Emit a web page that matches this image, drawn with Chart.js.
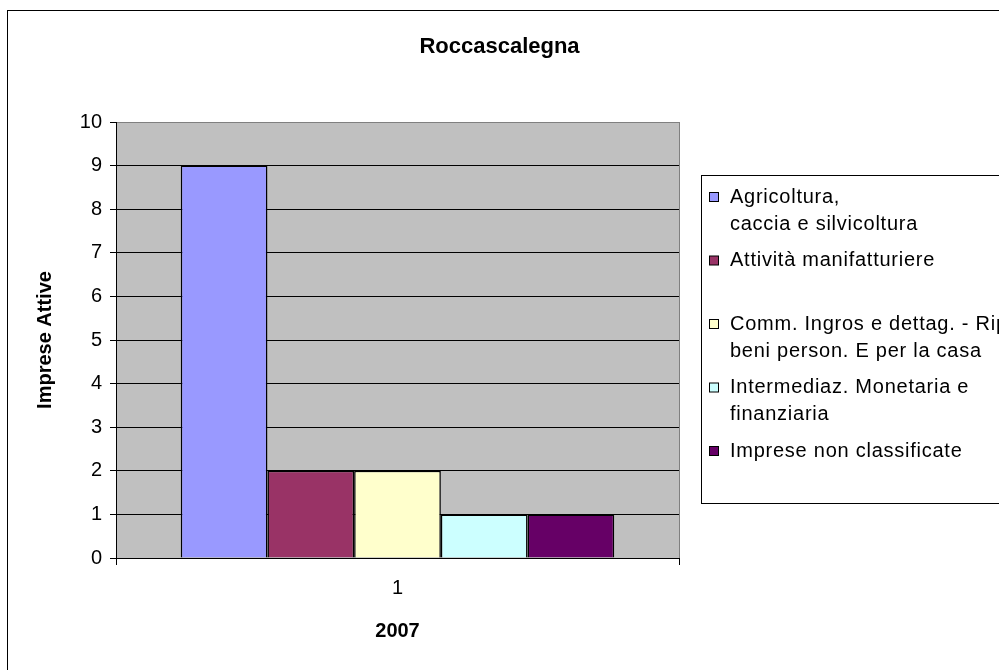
<!DOCTYPE html>
<html>
<head>
<meta charset="utf-8">
<script src="https://cdn.jsdelivr.net/npm/chart.js@4.4.1/dist/chart.umd.min.js"></script>
<style>
  html, body { margin: 0; padding: 0; background: #fff; }
  #wrap { width: 999px; height: 670px; position: relative; }
</style>
</head>
<body>
<div id="wrap"><canvas id="chart" width="999" height="670"></canvas></div>
<script>
// dati
const categorie = ["1"];
const nomiSerie = [
  ["Agricoltura,", "caccia e silvicoltura"],
  ["Attività manifatturiere"],
  ["Comm. Ingros e dettag. - Rip.", "beni person. E per la casa"],
  ["Intermediaz. Monetaria e", "finanziaria"],
  ["Imprese non classificate"]
];
const valoriSerie = [9, 2, 2, 1, 1];
const coloriSerie = ["#9999FF", "#993366", "#FFFFCC", "#CCFFFF", "#660066"];
const titolo = "Roccascalegna";
const titoloY = "Imprese Attive";
const titoloX = "2007";
const massimoY = 10;

const FONT = "'Liberation Sans', Arial, sans-serif";

// cornice, sfondo grigio, titolo e legenda
const decorazioni = {
  id: "decorazioni",
  beforeDraw(chart) {
    const ctx = chart.ctx;
    const a = chart.chartArea;
    ctx.save();
    ctx.strokeStyle = "#000";
    ctx.lineWidth = 1;
    ctx.strokeRect(7.5, 10.5, 1100, 700);
    ctx.fillStyle = "#C0C0C0";
    ctx.fillRect(a.left, a.top, a.right - a.left, a.bottom - a.top);
    ctx.restore();
  },
  afterDraw(chart) {
    const ctx = chart.ctx;
    ctx.save();
    // titolo
    ctx.fillStyle = "#000";
    ctx.font = "bold 22px " + FONT;
    ctx.textAlign = "center";
    ctx.textBaseline = "middle";
    ctx.fillText(titolo, chart.width / 2, 47);

    // legenda
    ctx.strokeStyle = "#000";
    ctx.lineWidth = 1;
    ctx.strokeRect(701.5, 175.5, 400, 328);
    ctx.font = "20px " + FONT;
    ctx.textAlign = "left";
    ctx.letterSpacing = "0.75px";
    chart.data.datasets.forEach((ds, i) => {
      const y0 = 197 + i * 63.5;
      ctx.fillStyle = ds.backgroundColor;
      ctx.fillRect(709.5, y0 - 4.5, 9, 9);
      ctx.strokeStyle = "#000";
      ctx.strokeRect(709.5, y0 - 4.5, 9, 9);
      ctx.fillStyle = "#000";
      nomiSerie[i].forEach((riga, k) => {
        ctx.fillText(riga, 730, y0 + k * 27);
      });
    });
    ctx.restore();
  }
};

const ctx = document.getElementById("chart");
new Chart(ctx, {
  type: "bar",
  data: {
    labels: categorie,
    datasets: nomiSerie.map((righe, i) => ({
      label: righe.join(" "),
      data: [valoriSerie[i]],
      backgroundColor: coloriSerie[i],
      borderColor: "#000",
      borderWidth: 1.5,
      categoryPercentage: 0.77,
      barPercentage: 1
    }))
  },
  options: {
    responsive: false,
    animation: false,
    layout: { padding: { left: 29, top: 122, right: 320, bottom: 23 } },
    plugins: {
      legend: { display: false },
      title: { display: false },
      tooltip: { enabled: false }
    },
    scales: {
      x: {
        offset: true,
        grid: { color: "#808080", lineWidth: 1, tickLength: 7, tickColor: "#000", offset: true },
        border: { color: "#000", width: 1 },
        ticks: { color: "#000", font: { family: FONT, size: 20 }, padding: 11 },
        title: { display: true, text: titoloX, color: "#000", font: { family: FONT, size: 20, weight: "bold" }, padding: 4 },
        afterFit(scale) { scale.height = 670 - 23 - 558; }
      },
      y: {
        min: 0,
        max: massimoY,
        ticks: { stepSize: 1, color: "#000", font: { family: FONT, size: 20 }, padding: 8 },
        grid: {
          color: (c) => (c.tick && c.tick.value === massimoY ? "#808080" : "#000"),
          tickColor: "#000",
          lineWidth: 1,
          tickLength: 6
        },
        border: { color: "#000", width: 1 },
        title: { display: true, text: titoloY, color: "#000", font: { family: FONT, size: 20, weight: "bold" }, padding: 4 },
        afterFit(scale) { scale.width = 116 - 29; }
      }
    }
  },
  plugins: [decorazioni]
});
</script>
</body>
</html>
